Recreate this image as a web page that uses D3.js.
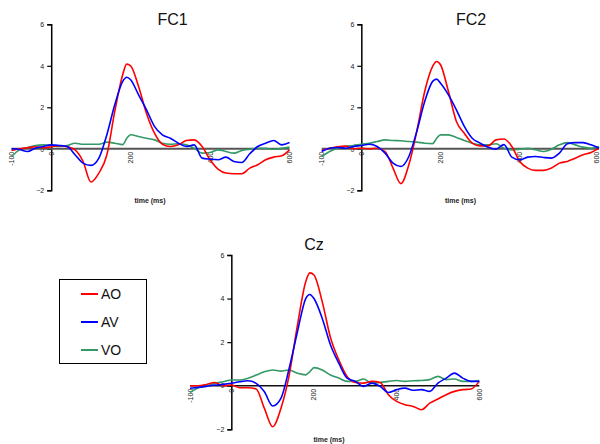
<!DOCTYPE html>
<html>
<head>
<meta charset="utf-8">
<script src="https://cdn.jsdelivr.net/npm/d3@7"></script>
<style>
  body { margin: 0; background: #fff; }
  svg { display: block; font-family: "Liberation Sans", Arial, sans-serif; }
</style>
</head>
<body>
<svg></svg>
<script>
const W = 600,
  H = 444,
  colors = { AO: "#ff0000", AV: "#0000ff", VO: "#339966" },
  seriesNames = ["AO", "AV", "VO"],
  xTicks = [-100, 0, 200, 400, 600],
  yTicks = [-2, 0, 2, 4, 6];

// time points (ms)
const times = [-100, -80, -60, -40, -20, 0, 20, 40, 60, 80, 100, 120, 140, 160, 180, 190, 200,
  220, 240, 260, 280, 300, 320, 340, 360, 380, 400, 420, 440, 460, 480, 500, 520, 540, 560, 580, 600];

// FC1 (µV)
const fc1AO = [-0.08, 0, 0.05, 0.1, 0.05, 0.1, 0.15, 0.1, -0.05, -0.6, -1.6, -1.17, -0.3, 1.8, 3.57, 4.08, 4.0,
  3.0, 1.7, 0.75, 0.22, 0.11, 0.19, 0.4, 0.43, 0.11, -0.53, -0.98, -1.17, -1.2, -1.2, -0.93, -0.77, -0.53, -0.4, -0.34, -0.05];
const fc1AV = [0, -0.03, -0.13, 0.03, 0.11, 0.19, 0.16, 0.11, -0.29, -0.69, -0.8, -0.45, 0.67, 2.12, 3.25, 3.45, 3.33,
  2.6, 1.88, 1.08, 0.67, 0.51, 0.27, 0.11, 0.19, -0.45, -0.5, -0.53, -0.4, -0.61, -0.66, -0.24, 0.11, 0.27, 0.4, 0.19, 0.3];
const fc1VO = [-0.37, -0.05, 0.06, 0.16, 0.19, 0.16, 0.11, 0.16, 0.27, 0.22, 0.22, 0.22, 0.32, 0.27, 0.2, 0.5, 0.68,
  0.59, 0.51, 0.43, 0.27, 0.22, 0.24, 0.19, 0.03, -0.21, -0.18, -0.05, -0.13, -0.21, -0.08, -0.02, 0.03, 0.03, -0.02, 0.02, 0.08];

// FC2
const fc2AO = [-0.08, 0.03, 0.1, 0.13, 0, 0.03, 0, 0.03, -0.13, -0.93, -1.68, -0.77, 0.84, 2.76, 3.97, 4.21, 4.05,
  2.76, 1.32, 0.75, 0.27, 0.14, 0.14, 0.43, 0.47, 0.11, -0.61, -0.93, -1.04, -1.04, -0.93, -0.69, -0.61, -0.45, -0.29, -0.18, 0.03];
const fc2AV = [-0.13, 0.03, 0.06, 0.03, 0.11, 0.16, 0.22, 0.11, -0.21, -0.69, -0.85, -0.37, 0.84, 2.28, 3.25, 3.36, 3.16,
  2.6, 1.88, 1.08, 0.51, 0.27, 0.08, -0.02, 0.2, -0.4, -0.53, -0.4, -0.37, -0.42, -0.45, -0.21, 0.24, 0.3, 0.3, 0.19, 0.03];
const fc2VO = [-0.37, -0.13, 0.03, 0.11, 0.16, 0.22, 0.27, 0.35, 0.43, 0.4, 0.39, 0.35, 0.32, 0.27, 0.25, 0.5, 0.67,
  0.67, 0.55, 0.4, 0.27, 0.19, 0.19, 0.24, 0.03, -0.05, -0.02, 0.03, -0.05, -0.13, -0.02, 0.19, 0.3, 0.19, 0.08, 0.03, 0.11];

// Cz
const czAO = [0, 0, 0.06, 0.15, 0, 0.03, -0.09, -0.09, -0.15, -1.04, -1.88, -1.04, 0.49, 2.78, 4.77, 5.18, 5.08,
  3.85, 2.2, 1.19, 0.43, 0.15, 0.12, 0.2, 0.15, -0.41, -0.72, -0.87, -0.95, -1.1, -0.8, -0.61, -0.41, -0.26, -0.18, -0.15, 0.2];
const czAV = [-0.12, -0.08, -0.03, 0.03, 0.06, 0.11, 0.18, 0.23, 0.11, -0.28, -0.93, -0.58, 0.8, 2.48, 4.0, 4.19, 4.0,
  3.09, 1.87, 1.04, 0.35, 0.2, -0.03, 0.12, -0.03, -0.31, -0.18, -0.11, -0.21, -0.18, -0.26, 0.12, 0.35, 0.58, 0.35, 0.2, 0.2];
const czVO = [-0.31, -0.09, 0, 0.11, 0.18, 0.26, 0.26, 0.34, 0.49, 0.64, 0.72, 0.67, 0.72, 0.57, 0.5, 0.65, 0.83,
  0.72, 0.49, 0.35, 0.2, 0.2, 0.31, 0.12, 0.15, 0.2, 0.24, 0.2, 0.23, 0.24, 0.28, 0.43, 0.28, 0.31, 0.2, 0.2, 0.24];

// layout of the three panels (pixel positions)
const panels = [
  { title: "FC1", series: [fc1AO, fc1AV, fc1VO], xr: [11.5, 289.5], yr: [190.3, 24.3],
    titleX: 172.5, titleY: 24.5, labelX: 150, labelY: 202.5, zeroColor: "#555", zeroWidth: 2 },
  { title: "FC2", series: [fc2AO, fc2AV, fc2VO], xr: [321.7, 599], yr: [190.3, 24.3],
    titleX: 471, titleY: 24.5, labelX: 460.5, labelY: 202.5, zeroColor: "#555", zeroWidth: 2 },
  { title: "Cz", series: [czAO, czAV, czVO], xr: [190, 479.3], yr: [429.3, 255],
    titleX: 314, titleY: 250, labelX: 329, labelY: 442, zeroColor: "#111", zeroWidth: 1.3 }
];

var svg = d3.select("svg").attr("width", W).attr("height", H);

panels.forEach(function (p) {
  var x = d3.scaleLinear().domain([-100, 600]).range(p.xr);
  var y = d3.scaleLinear().domain([-2, 6]).range(p.yr);
  var g = svg.append("g");

  // y axis sits at time 0
  var yAxis = d3.axisLeft(y).tickValues(yTicks).tickSize(4).tickPadding(3).tickFormat(d3.format("d"));
  var ya = g.append("g")
    .attr("transform", "translate(" + x(0) + ",0)")
    .call(yAxis);
  ya.select(".domain").attr("stroke", "#000").attr("stroke-width", 1.5);
  ya.selectAll(".tick line").attr("stroke", "#000").attr("stroke-width", 1.2);
  ya.selectAll(".tick text")
    .attr("font-size", 7)
    .attr("fill", "#222")
    .attr("font-family", "Liberation Sans, Arial, sans-serif");

  // rotated time labels under the zero line (kept inside the page)
  g.selectAll(".xlab")
    .data(xTicks)
    .enter()
    .append("text")
    .attr("class", "xlab")
    .attr("transform", d => "translate(" + Math.min(x(d) + 2.5, W - 1) + "," + (y(0) + 3) + ") rotate(-90)")
    .attr("text-anchor", "end")
    .attr("font-size", 7)
    .attr("fill", "#222")
    .text(d => d);

  // zero line
  g.append("line")
    .attr("x1", x(-100))
    .attr("x2", x(600))
    .attr("y1", y(0))
    .attr("y2", y(0))
    .attr("stroke", p.zeroColor)
    .attr("stroke-width", p.zeroWidth);

  var line = d3.line()
    .x((d, i) => x(times[i]))
    .y(d => y(d))
    .curve(d3.curveMonotoneX);

  // draw VO first, then AO, then AV on top
  [2, 0, 1].forEach(function (k) {
    g.append("path")
      .datum(p.series[k])
      .attr("d", line)
      .attr("fill", "none")
      .attr("stroke", colors[seriesNames[k]])
      .attr("stroke-width", 1.6);
  });

  g.append("text")
    .attr("x", p.titleX)
    .attr("y", p.titleY)
    .attr("text-anchor", "middle")
    .attr("font-size", 16)
    .attr("fill", "#111")
    .text(p.title);

  g.append("text")
    .attr("x", p.labelX)
    .attr("y", p.labelY)
    .attr("text-anchor", "middle")
    .attr("font-size", 7)
    .attr("font-weight", "bold")
    .attr("fill", "#222")
    .text("time (ms)");
});

// legend
var legend = svg.append("g");
legend.append("rect")
  .attr("x", 59.5)
  .attr("y", 279.5)
  .attr("width", 87)
  .attr("height", 84)
  .attr("fill", "#fff")
  .attr("stroke", "#000")
  .attr("stroke-width", 1);

seriesNames.forEach(function (s, i) {
  var ly = 294 + i * 28;
  legend.append("line")
    .attr("x1", 81)
    .attr("x2", 98)
    .attr("y1", ly)
    .attr("y2", ly)
    .attr("stroke", colors[s])
    .attr("stroke-width", 2);
  legend.append("text")
    .attr("x", 101)
    .attr("y", ly)
    .attr("dy", "0.35em")
    .attr("font-size", 14)
    .attr("fill", "#111")
    .text(s);
});
</script>
</body>
</html>
